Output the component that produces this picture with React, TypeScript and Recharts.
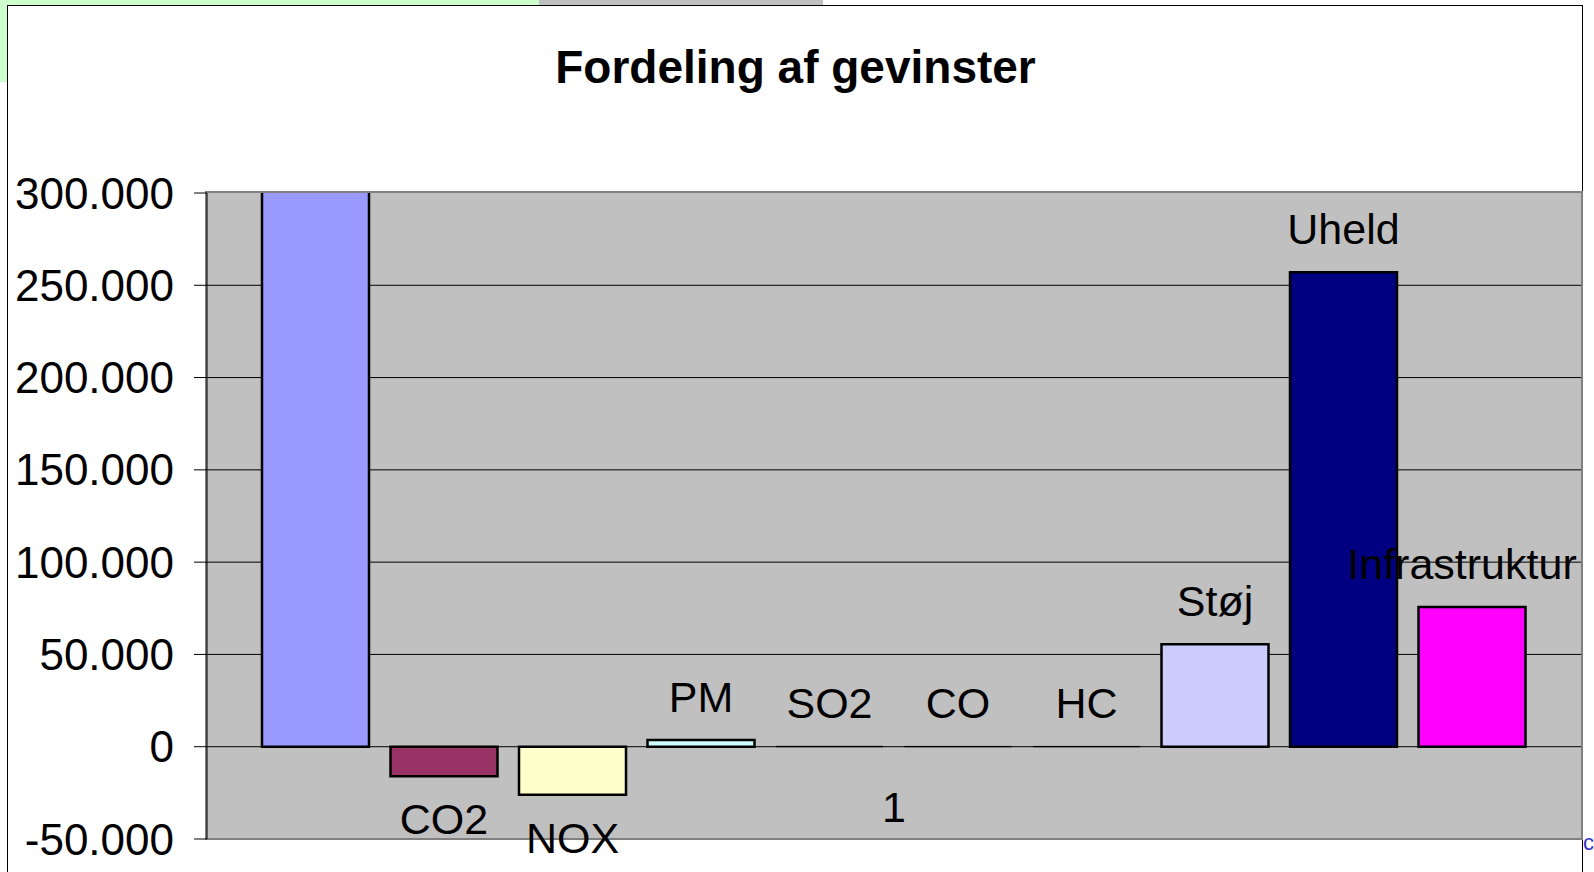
import { BarChart, Bar, XAxis, YAxis, CartesianGrid, LabelList } from "recharts"

const categories = ["1"]
const seriesNames = ["Tid", "CO2", "NOX", "PM", "SO2", "CO", "HC", "Støj", "Uheld", "Infrastruktur"]
// first series runs past the top of the axis in the original
const seriesValues = [303000, -16000, -26000, 3600, 200, 150, 150, 55500, 257000, 75700]
const yTicks = [-50000, 0, 50000, 100000, 150000, 200000, 250000, 300000]
const gridValues = [0, 50000, 100000, 150000, 200000, 250000]

const colors = ["#9999FF", "#993366", "#FFFFCC", "#CCFFFF", "#660066", "#FF8080", "#0066CC", "#CCCCFF", "#000080", "#FF00FF"]
const strokes = [2.5, 2.5, 2.5, 2.5, 1, 1, 1, 2.5, 2.5, 2.5]
const labelShift = [0, 0, 0, 0, 0, 0, 0, 0, 0, -10]

const data = categories.map((name) => {
  const row: Record<string, string | number> = { name }
  seriesValues.forEach((v, i) => {
    row["s" + i] = v
  })
  return row
})

const font = '"Liberation Sans", Arial, sans-serif'

const fmt = (v: number) => {
  const s = Math.abs(v).toString().replace(/\B(?=(\d{3})+(?!\d))/g, ".")
  return v < 0 ? "-" + s : s
}

const seriesLabel = (i: number) => (props: any) => {
  const vb = props.viewBox || props
  const { x, y, width, height } = vb
  const top = Math.min(y, y + height)
  const bottom = Math.max(y, y + height)
  const cx = x + width / 2 + labelShift[i]
  const by = seriesValues[i] < 0 ? bottom + 28 + 30 : top - 28
  return (
    <text x={cx} y={by} textAnchor="middle" fontSize={43} fontFamily={font} fill="#000">
      {seriesNames[i]}
    </text>
  )
}

const CategoryTick = (props: any) => {
  const { x, y, payload } = props
  return (
    <text x={x} y={y - 17} textAnchor="middle" fontSize={43} fontFamily={font} fill="#000">
      {payload.value}
    </text>
  )
}

export default function App() {
  return (
    <div style={{ position: "absolute", left: 0, top: 0, width: 1594, height: 872, overflow: "hidden", background: "#fff" }}>
      {/* bits of the spreadsheet behind the chart */}
      <div style={{ position: "absolute", left: 0, top: 0, width: 539, height: 6, background: "#CCFFCC" }} />
      <div style={{ position: "absolute", left: 0, top: 0, width: 8, height: 82, background: "#CCFFCC" }} />
      <div style={{ position: "absolute", left: 539, top: 0, width: 284, height: 6, background: "#C0C0C0" }} />
      <div style={{ position: "absolute", left: 1583, top: 830, fontFamily: font, fontSize: 22, color: "#3333CC" }}>c</div>

      <div style={{ position: "absolute", left: 7, top: 5, width: 1574, height: 900, border: "1px solid #000", background: "#fff" }} />
      <div
        style={{
          position: "absolute",
          left: 8,
          width: 1575,
          top: 44,
          lineHeight: "46px",
          fontSize: 46,
          fontWeight: "bold",
          fontFamily: font,
          textAlign: "center",
        }}
      >
        Fordeling af gevinster
      </div>
      <div style={{ position: "absolute", left: 205, top: 191, width: 1374, height: 645, border: "2px solid #808080", background: "#C0C0C0" }} />

      <div style={{ position: "absolute", left: 0, top: 0 }}>
        <BarChart
          width={1594}
          height={872}
          data={data}
          margin={{ top: 193, right: 13, bottom: 32, left: 0 }}
          barSize={107}
          barGap={21.5}
        >
          <CartesianGrid vertical={false} horizontalValues={gridValues} stroke="#000" strokeWidth={1} />
          <XAxis dataKey="name" height={1} axisLine={false} tickLine={false} tickSize={0} tickMargin={0} tick={<CategoryTick />} />
          <YAxis
            width={207}
            domain={[-50000, 300000]}
            ticks={yTicks}
            interval={0}
            allowDataOverflow
            tickFormatter={fmt}
            tickSize={13}
            tickMargin={20}
            axisLine={{ stroke: "#000", strokeWidth: 1 }}
            tickLine={{ stroke: "#000", strokeWidth: 1 }}
            tick={{ fontSize: 44, fontFamily: font, fill: "#000" }}
          />
          {seriesNames.map((n, i) => (
            <Bar key={n} dataKey={"s" + i} name={n} fill={colors[i]} stroke="#000" strokeWidth={strokes[i]} isAnimationActive={false}>
              {i > 0 && <LabelList dataKey={"s" + i} content={seriesLabel(i)} />}
            </Bar>
          ))}
        </BarChart>
      </div>
    </div>
  )
}
